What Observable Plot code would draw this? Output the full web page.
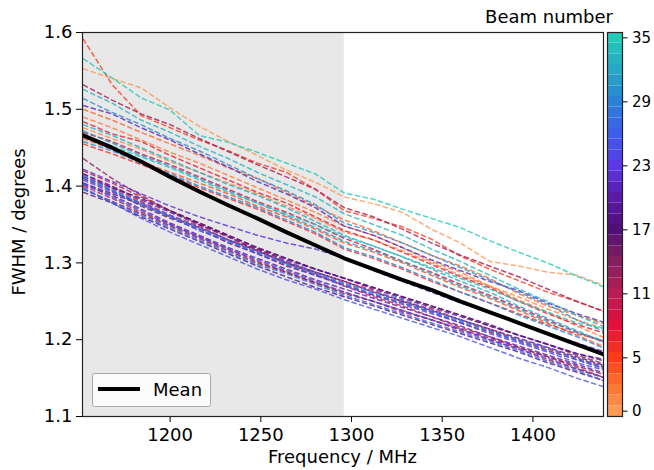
<!DOCTYPE html>
<html><head><meta charset="utf-8">
<script src="https://cdn.jsdelivr.net/npm/d3@7"></script>
<script src="https://cdn.jsdelivr.net/npm/@observablehq/plot@0.6"></script>
<style>
body{margin:0;background:#fff;font-family:"DejaVu Sans",sans-serif;}
#wrap{position:relative;width:654px;height:470px;overflow:hidden;}
#wrap svg{position:absolute;top:0;left:0;}
</style></head><body><div id="wrap"></div>
<script>
// ---- data ----
const frequencies = [1152,1168,1184,1200,1216,1232,1248,1264,1280,1296,1312,1328,1344,1360,1376,1392,1408,1424,1440];
const beamNumbers = [0,1,2,3,4,5,6,7,8,9,10,11,12,13,14,15,16,17,18,19,20,21,22,23,24,25,26,27,28,29,30,31,32,33,34,35];
const fwhmByBeam = [
/*0*/ [1.553,1.540,1.528,1.502,1.478,1.458,1.440,1.421,1.405,1.386,1.377,1.366,1.344,1.326,1.302,1.296,1.288,1.284,1.270],
/*1*/ [1.476,1.462,1.448,1.432,1.418,1.404,1.390,1.374,1.358,1.340,1.330,1.316,1.300,1.284,1.270,1.256,1.240,1.226,1.214],
/*2*/ [1.490,1.476,1.460,1.444,1.430,1.414,1.398,1.382,1.366,1.348,1.336,1.320,1.302,1.288,1.270,1.252,1.236,1.218,1.202],
/*3*/ [1.500,1.486,1.470,1.455,1.440,1.424,1.410,1.392,1.374,1.356,1.342,1.326,1.310,1.296,1.280,1.260,1.244,1.232,1.220],
/*4*/ [1.462,1.448,1.432,1.418,1.404,1.390,1.374,1.360,1.344,1.326,1.314,1.300,1.284,1.268,1.254,1.238,1.222,1.206,1.190],
/*5*/ [1.592,1.532,1.492,1.476,1.460,1.446,1.430,1.418,1.396,1.368,1.358,1.347,1.331,1.309,1.292,1.277,1.262,1.250,1.236],
/*6*/ [1.455,1.442,1.428,1.414,1.398,1.384,1.370,1.354,1.338,1.318,1.306,1.292,1.276,1.262,1.248,1.234,1.220,1.208,1.198],
/*7*/ [1.484,1.468,1.458,1.440,1.424,1.408,1.392,1.378,1.360,1.342,1.330,1.314,1.298,1.282,1.268,1.250,1.234,1.220,1.208],
/*8*/ [1.416,1.398,1.380,1.362,1.348,1.330,1.318,1.302,1.288,1.276,1.264,1.250,1.240,1.226,1.214,1.200,1.188,1.176,1.164],
/*9*/ [1.470,1.458,1.442,1.428,1.412,1.396,1.380,1.366,1.350,1.332,1.318,1.302,1.288,1.272,1.258,1.242,1.226,1.210,1.196],
/*10*/[1.420,1.404,1.386,1.368,1.350,1.334,1.316,1.300,1.286,1.270,1.256,1.244,1.230,1.216,1.204,1.190,1.178,1.164,1.150],
/*11*/[1.400,1.384,1.366,1.350,1.334,1.318,1.302,1.288,1.274,1.262,1.250,1.236,1.226,1.212,1.200,1.188,1.174,1.162,1.150],
/*12*/[1.532,1.512,1.494,1.480,1.462,1.445,1.428,1.412,1.396,1.372,1.360,1.344,1.326,1.310,1.296,1.282,1.266,1.250,1.236],
/*13*/[1.436,1.410,1.388,1.368,1.352,1.336,1.320,1.306,1.292,1.280,1.268,1.256,1.244,1.232,1.218,1.206,1.194,1.180,1.168],
/*14*/[1.396,1.380,1.364,1.348,1.332,1.316,1.300,1.288,1.274,1.260,1.250,1.238,1.226,1.214,1.202,1.190,1.178,1.166,1.154],
/*15*/[1.410,1.394,1.374,1.358,1.344,1.326,1.312,1.296,1.284,1.272,1.258,1.248,1.236,1.222,1.210,1.198,1.186,1.174,1.162],
/*16*/[1.404,1.390,1.376,1.360,1.346,1.330,1.316,1.300,1.288,1.276,1.262,1.250,1.238,1.226,1.214,1.202,1.190,1.178,1.166],
/*17*/[1.412,1.398,1.384,1.368,1.352,1.336,1.320,1.306,1.292,1.280,1.268,1.256,1.244,1.232,1.220,1.206,1.194,1.182,1.172],
/*18*/[1.392,1.378,1.360,1.344,1.328,1.312,1.296,1.282,1.268,1.256,1.244,1.232,1.220,1.208,1.196,1.184,1.170,1.158,1.146],
/*19*/[1.416,1.400,1.382,1.366,1.350,1.334,1.318,1.304,1.292,1.280,1.266,1.254,1.242,1.230,1.218,1.206,1.194,1.182,1.174],
/*20*/[1.402,1.388,1.370,1.352,1.336,1.320,1.306,1.292,1.278,1.266,1.254,1.242,1.230,1.218,1.204,1.192,1.180,1.168,1.156],
/*21*/[1.505,1.494,1.476,1.460,1.442,1.425,1.406,1.390,1.372,1.348,1.336,1.320,1.304,1.290,1.276,1.264,1.248,1.234,1.222],
/*22*/[1.422,1.406,1.390,1.374,1.360,1.348,1.336,1.326,1.318,1.306,1.290,1.276,1.262,1.248,1.236,1.222,1.208,1.196,1.184],
/*23*/[1.408,1.392,1.378,1.360,1.342,1.328,1.312,1.298,1.284,1.270,1.258,1.246,1.234,1.222,1.208,1.196,1.184,1.170,1.160],
/*24*/[1.404,1.386,1.368,1.350,1.334,1.318,1.304,1.290,1.276,1.262,1.250,1.238,1.226,1.214,1.200,1.188,1.176,1.162,1.150],
/*25*/[1.398,1.378,1.358,1.340,1.324,1.308,1.292,1.278,1.266,1.252,1.240,1.228,1.216,1.204,1.190,1.176,1.164,1.150,1.138],
/*26*/[1.414,1.396,1.378,1.362,1.346,1.330,1.314,1.302,1.288,1.274,1.262,1.252,1.238,1.226,1.212,1.200,1.190,1.176,1.164],
/*27*/[1.396,1.380,1.362,1.346,1.330,1.314,1.298,1.286,1.272,1.258,1.246,1.234,1.222,1.210,1.198,1.186,1.172,1.160,1.146],
/*28*/[1.412,1.394,1.376,1.360,1.344,1.328,1.314,1.298,1.286,1.272,1.260,1.248,1.236,1.224,1.212,1.198,1.186,1.174,1.162],
/*29*/[1.458,1.446,1.430,1.416,1.400,1.386,1.372,1.356,1.340,1.320,1.308,1.294,1.278,1.262,1.248,1.232,1.218,1.204,1.188],
/*30*/[1.514,1.496,1.480,1.462,1.446,1.428,1.410,1.394,1.376,1.352,1.340,1.326,1.310,1.294,1.278,1.262,1.246,1.226,1.210],
/*31*/[1.472,1.456,1.440,1.426,1.410,1.394,1.378,1.362,1.346,1.328,1.316,1.302,1.286,1.270,1.256,1.240,1.224,1.210,1.198],
/*32*/[1.480,1.466,1.450,1.434,1.418,1.402,1.388,1.372,1.354,1.336,1.322,1.308,1.292,1.276,1.262,1.244,1.228,1.212,1.196],
/*33*/[1.526,1.508,1.486,1.470,1.452,1.436,1.418,1.402,1.386,1.364,1.350,1.336,1.318,1.302,1.284,1.266,1.250,1.232,1.216],
/*34*/[1.466,1.452,1.438,1.424,1.408,1.392,1.378,1.364,1.350,1.334,1.322,1.308,1.294,1.280,1.266,1.250,1.236,1.222,1.214],
/*35*/[1.566,1.541,1.515,1.499,1.466,1.457,1.444,1.430,1.416,1.391,1.383,1.370,1.358,1.346,1.329,1.314,1.300,1.283,1.268]
];
const meanFwhm = [1.466,1.450,1.432,1.412,1.393,1.375,1.358,1.340,1.323,1.306,1.292,1.278,1.265,1.250,1.236,1.222,1.208,1.194,1.180];
const shadedRange = [1151.7, 1296];
const xDomain = [1151.7, 1438.9];
const yTicks = [1.1, 1.2, 1.3, 1.4, 1.5, 1.6];
const xTicks = [1200, 1250, 1300, 1350, 1400];
const colorbarTicks = [0, 5, 11, 17, 23, 29, 35];

// ---- style: colormap ----
const cmapPositions = [0, 2.5, 5, 8, 11, 14, 17, 20, 23, 26, 29, 32, 35];
const cmapColors = ["#fd9a55","#fe6f2e","#fb3b1c","#e20f3a","#b71c55","#84205f","#510e76","#5a1aa6","#5a38e6","#3d5ee8","#2b82d4","#28a8c4","#22cab8"];
const colorScale = {type: "linear", domain: cmapPositions, range: cmapColors, interpolate: "rgb"};

const rows = beamNumbers.flatMap((b, i) => frequencies.map((f, j) => ({beam: b, freq: f, fwhm: fwhmByBeam[i][j]})));
const meanRows = frequencies.map((f, j) => ({freq: f, fwhm: meanFwhm[j]}));

const W = 654, H = 470;
const main = Plot.plot({
  width: W, height: H,
  marginLeft: 82, marginRight: 51, marginTop: 32, marginBottom: 54,
  style: {fontFamily: "DejaVu Sans, sans-serif", fontSize: "18px", color: "#000", background: "transparent"},
  x: {domain: xDomain},
  y: {domain: [1.1, 1.6]},
  color: colorScale,
  marks: [
    Plot.rect([shadedRange], {x1: d => d[0], x2: d => d[1], fill: "#e8e8e8"}),
    Plot.line(rows, {x: "freq", y: "fwhm", z: "beam", stroke: "beam", curve: "linear", clip: true,
      strokeWidth: 1.5, strokeDasharray: "5.5,2.4", strokeOpacity: 0.8, strokeLinecap: "butt", strokeLinejoin: "miter"}),
    Plot.line(meanRows, {x: "freq", y: "fwhm", stroke: "#000", strokeWidth: 4, clip: true}),
    Plot.axisX({ticks: xTicks, tickSize: 6, tickPadding: 6, label: null, tickFormat: d => String(d)}),
    Plot.axisY({ticks: yTicks, tickSize: 6, tickPadding: 4, label: null, tickFormat: d3.format(".1f")}),
    Plot.frame({stroke: "#222", strokeWidth: 1.2})
  ]
});

const cbar = Plot.plot({
  width: W, height: H,
  marginLeft: 607, marginRight: 32, marginTop: 32, marginBottom: 54,
  style: {fontFamily: "DejaVu Sans, sans-serif", fontSize: "15px", color: "#000", background: "transparent"},
  x: {domain: [0, 1], axis: null},
  y: {domain: [-0.5, 35.5]},
  color: colorScale,
  marks: [
    Plot.rect(beamNumbers, {x1: 0, x2: 1, y1: d => d - 0.5, y2: d => d + 0.5, fill: d => d}),
    Plot.axisY({anchor: "right", ticks: colorbarTicks, tickSize: 4.5, tickPadding: 5, label: null, tickFormat: d => String(d)}),
    Plot.frame({stroke: "#222", strokeWidth: 1.2})
  ]
});

const wrap = document.getElementById("wrap");
wrap.appendChild(main);
wrap.appendChild(cbar);

// text labels and legend
const svg = d3.select(main);
const g = svg.append("g").attr("font-family", "DejaVu Sans, sans-serif").attr("font-size", 18).attr("fill", "#000");
g.append("text").attr("x", 342.5).attr("y", 463).attr("text-anchor", "middle").text("Frequency / MHz");
g.append("text").attr("transform", "translate(25,222) rotate(-90)").attr("text-anchor", "middle").text("FWHM / degrees");
g.append("text").attr("x", 613).attr("y", 23).attr("text-anchor", "end").text("Beam number");
const lg = svg.append("g");
lg.append("rect").attr("x", 92.5).attr("y", 373.5).attr("width", 118).attr("height", 33).attr("rx", 2)
  .attr("fill", "#ffffff").attr("fill-opacity", 0.8).attr("stroke", "#a8a8a8").attr("stroke-width", 1);
lg.append("line").attr("x1", 98).attr("x2", 140).attr("y1", 389).attr("y2", 389).attr("stroke", "#000").attr("stroke-width", 4);
lg.append("text").attr("x", 153).attr("y", 395.5).attr("text-anchor", "start").attr("font-family", "DejaVu Sans, sans-serif").attr("font-size", 18).text("Mean");
</script></body></html>
